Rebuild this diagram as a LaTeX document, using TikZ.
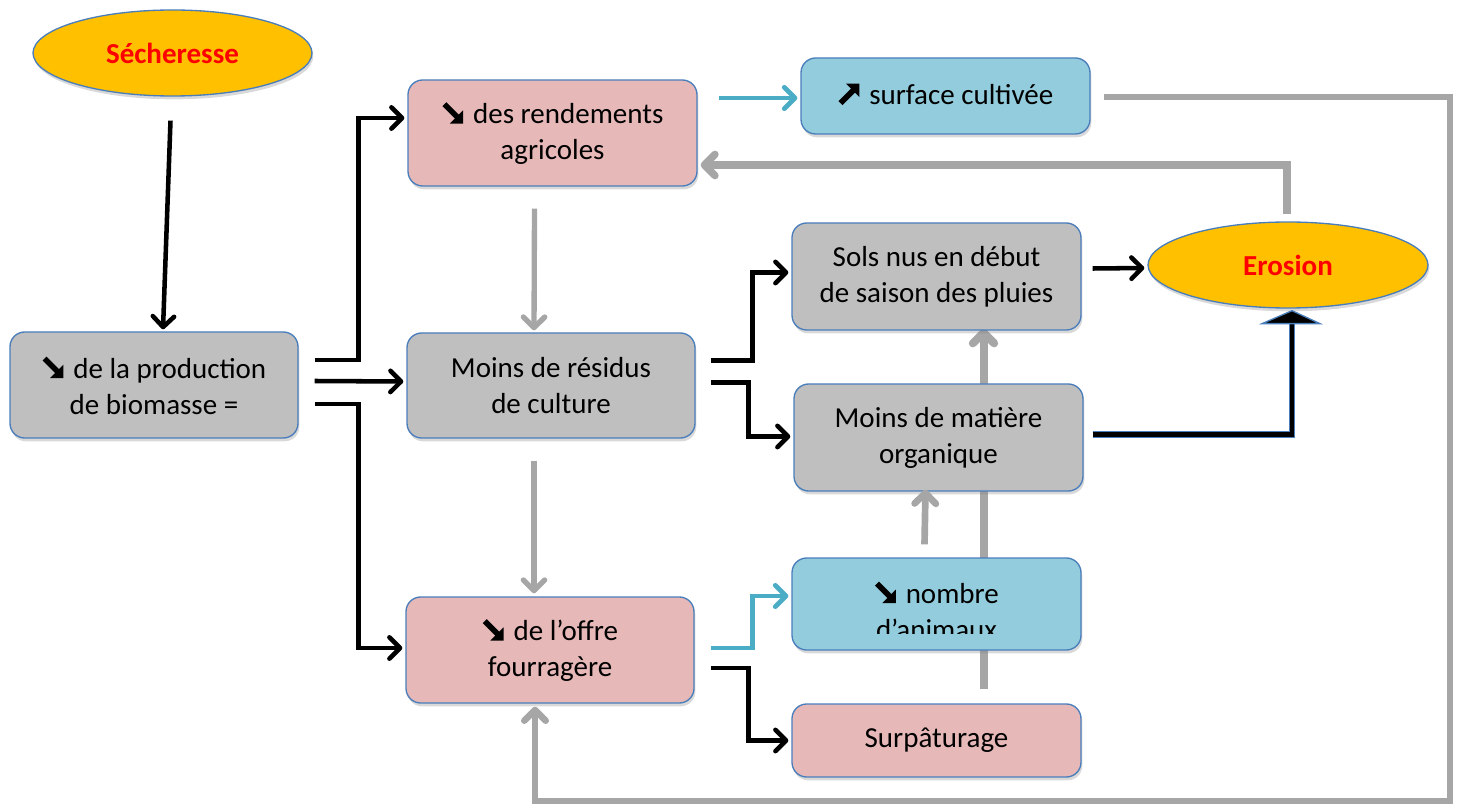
\documentclass[tikz,border=0pt]{standalone}
\usepackage{fontspec}
\setmainfont{Carlito}
\usetikzlibrary{arrows.meta,calc,shapes.geometric,shadows,backgrounds}

\definecolor{bordblue}{HTML}{4A7EBB}
\definecolor{orng}{HTML}{FFC000}
\definecolor{grayfill}{HTML}{BFBFBF}
\definecolor{pinkfill}{HTML}{E6B9B8}
\definecolor{bluefill}{HTML}{93CDDD}
\definecolor{cyanline}{HTML}{4BACC6}
\definecolor{grayline}{HTML}{A6A6A6}

\newcommand\arrdn{\tikz[baseline=0pt, x=1pt, y=1pt, sharp corners, line cap=butt]{%
  \fill[black] (15.5,0) -- (15.5,10) -- (5.5,0) -- cycle;
  \draw[black, line width=4.2pt] (1.4,14.6) -- (11.2,4.8);}\hspace{7.5pt}}
\newcommand\arrup{\tikz[baseline=0pt, x=1pt, y=1pt, sharp corners, line cap=butt]{%
  \fill[black] (15.5,15.5) -- (15.5,5.5) -- (5.5,15.5) -- cycle;
  \draw[black, line width=4.2pt] (1.4,0.9) -- (11.2,10.7);}\hspace{7.5pt}}

\tikzset{
  shad/.style={drop shadow={shadow xshift=1pt, shadow yshift=-2.5pt, opacity=0.3}},
  box/.style={draw=bordblue, line width=1pt, rounded corners=11pt, align=center,
               inner sep=0pt, shad},
  gbox/.style={box, fill=grayfill},
  pbox/.style={box, fill=pinkfill},
  bbox/.style={box, fill=bluefill},
  oval/.style={ellipse, draw=bordblue, line width=1pt, fill=orng, inner sep=0pt,
               text=red, font=\fontsize{21.75}{27}\selectfont\bfseries, shad},
  tip/.style={-{Straight Barb[length=8pt,width=16pt,round]}},
  blk/.style={draw=black, line width=3.4pt, tip},
  cyn/.style={draw=cyanline, line width=3.6pt, tip},
  gry/.style={draw=grayline, line width=#1, tip},
}

\begin{document}
\begin{tikzpicture}[x=0.75pt, y=-0.75pt, font=\fontsize{21.75}{27}\selectfont]
\useasboundingbox (0,0) rectangle (1464,805);

% nodes
\node[oval, minimum width=209.25pt, minimum height=64.5pt] (sech) at (172.5,53) {Sécheresse};
\node[oval, minimum width=210pt, minimum height=64.5pt] (eros) at (1288,265) {Erosion};

\node[gbox, minimum width=216pt, minimum height=79.5pt] (bio) at (154,385) {\arrdn de la production\\de biomasse =};
\node[pbox, minimum width=216.75pt, minimum height=79.5pt] (rend) at (552.5,133) {\arrdn des rendements\\agricoles};
\node[bbox, minimum width=216.75pt, minimum height=57pt] (surf) at (945.5,96) {\raisebox{3pt}{\arrup surface cultivée}};
\node[gbox, minimum width=216pt, minimum height=78.75pt] (resid) at (551,385.5) {Moins de résidus\\de culture};
\node[pbox, minimum width=216pt, minimum height=79.5pt] (offre) at (550,650) {\arrdn de l’offre\\fourragère};
\node[gbox, minimum width=216.75pt, minimum height=80.25pt] (sols) at (936.5,276.5) {Sols nus en début\\de saison des pluies};
\node[gbox, minimum width=216.75pt, minimum height=80.25pt] (mat) at (938.5,437.5) {Moins de matière\\organique};
\node[bbox, minimum width=216.75pt, minimum height=69pt] (nomb) at (936.5,604) {};
\node[pbox, minimum width=216.75pt, minimum height=54.75pt] (surp) at (936.5,740.5) {Surpâturage};

\begin{scope}
  \clip (nomb.north west) rectangle ($(nomb.south east)+(0,-17)$);
  \node[align=center, inner sep=0pt] (nombtxt) at ($(nomb.center)+(0,6)$) {\arrdn nombre\\d’animaux};
\end{scope}

% connectors
\draw[blk] ($(sech.south)+(-2,24)$) -- ($(bio.north)+(9,-2)$);

\draw[blk] ($(bio.east)+(16,-25)$) -- ++(44,0) |- ($(rend.west)+(-3,-15)$);
\draw[blk] ($(bio.east)+(16,-4)$) -- ($(resid.west)+(-3,-4)$);
\draw[blk] ($(bio.east)+(16,19)$) -- ++(44,0) |- ($(offre.west)+(-3,-2)$);

\draw[cyn] ($(rend.east)+(21,-35)$) -- ($(surf.west)+(-3,2)$);

\coordinate (rc) at (1450,97);
\coordinate (bc) at (1450,801);
\draw[gry=5pt] ($(surf.east)+(13,1)$) -- (rc) -- (bc) -| ($(offre.south)+(-15,3)$);

\draw[gry=5.5pt] ($(eros.north)+(-1,-7)$) |- ($(rend.east)+(3,32)$);

\draw[gry=4pt] ($(rend.south)+(-18,22)$) -- ($(resid.north)+(-17,-2)$);
\draw[gry=4pt] ($(resid.south)+(-17,22)$) -- ($(offre.north)+(-16,-3)$);

\draw[blk] ($(resid.east)+(15,-25)$) -- ++(42,0) |- ($(sols.west)+(-3,-4)$);
\draw[blk] ($(resid.east)+(15,-3)$) -- ++(38,0) |- ($(mat.west)+(-3,-1)$);

\draw[blk] ($(sols.east)+(11,-8)$) -- ($(eros.west)+(-3,3)$);

\draw[draw=bordblue, double=black, double distance=3.2pt, line width=1pt]
  ($(mat.east)+(9,-3)$) -| ($(eros.south)+(4,14)$);
\filldraw[fill=black, draw=bordblue, line width=1pt]
  ($(eros.south)+(4,2)$) -- ($(eros.south)+(-26,15)$) -- ($(eros.south)+(32,15)$) -- cycle;

\draw[cyn] ($(offre.east)+(16,-2)$) -- ++(42,0) |- ($(nomb.west)+(-3,-8)$);
\draw[blk] ($(offre.east)+(16,18)$) -- ++(38,0) |- ($(surp.west)+(-3,0)$);

\draw[gry=5pt] ($(nomb.north)+(-12,-13)$) -- ($(mat.south)+(-13,-2)$);

\begin{pgfonlayer}{background}
  \draw[gry=6pt] ($(surp.north)+(47,-14)$) -- ($(sols.south)+(47,-2)$);
\end{pgfonlayer}
\end{tikzpicture}
\end{document}
